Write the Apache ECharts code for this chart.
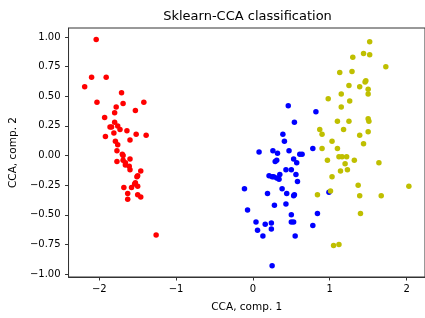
<!DOCTYPE html>
<html>
<head>
<meta charset="utf-8">
<script src="https://cdn.jsdelivr.net/npm/echarts@6/dist/echarts.min.js"></script>
<style>
  html, body { margin: 0; padding: 0; background: #fff; }
  #chart { width: 425px; height: 318px; }
</style>
</head>
<body>
<div id="chart"></div>
<script>
var xTicks = [-2, -1, 0, 1, 2];
var yTicks = [-1, -0.75, -0.5, -0.25, 0, 0.25, 0.5, 0.75, 1];

// [comp1, comp2] per point
var classRed = [
    [-2.04, 0.98], [-2.10, 0.66], [-1.91, 0.66], [-2.19, 0.58], [-1.71, 0.53],
    [-2.03, 0.45], [-1.69, 0.44], [-1.78, 0.41], [-1.42, 0.45], [-1.53, 0.38],
    [-1.80, 0.36], [-1.93, 0.32], [-1.80, 0.28], [-1.76, 0.25], [-1.86, 0.24],
    [-1.84, 0.24], [-1.73, 0.22], [-1.64, 0.21], [-1.81, 0.19], [-1.52, 0.18],
    [-1.39, 0.17], [-1.92, 0.16], [-1.60, 0.13], [-1.79, 0.12], [-1.76, 0.09],
    [-1.77, 0.04], [-1.70, 0.01], [-1.69, 0.00], [-1.60, -0.03], [-1.77, -0.05],
    [-1.69, -0.04], [-1.66, -0.06], [-1.66, -0.08], [-1.61, -0.09], [-1.60, -0.12],
    [-1.46, -0.13], [-1.50, -0.17], [-1.51, -0.18], [-1.53, -0.23], [-1.54, -0.24],
    [-1.50, -0.26], [-1.58, -0.27], [-1.68, -0.27], [-1.63, -0.32], [-1.50, -0.33],
    [-1.46, -0.35], [-1.63, -0.37], [-1.26, -0.67]
];
var classBlue = [
    [0.46, 0.42], [0.82, 0.37], [0.54, 0.28], [0.39, 0.18], [0.41, 0.12],
    [0.78, 0.06], [0.08, 0.03], [0.26, 0.04], [0.32, 0.02], [0.47, 0.04],
    [0.61, 0.01], [0.64, 0.01], [0.53, -0.03], [0.31, -0.04], [0.29, -0.05],
    [0.57, -0.06], [0.50, -0.12], [0.43, -0.12], [0.35, -0.16], [0.21, -0.17],
    [0.25, -0.18], [0.27, -0.18], [0.31, -0.19], [0.34, -0.20], [0.56, -0.16],
    [0.58, -0.22], [-0.11, -0.28], [0.38, -0.28], [0.44, -0.32], [0.19, -0.32],
    [0.54, -0.33], [0.53, -0.34], [0.28, -0.42], [0.43, -0.41], [-0.07, -0.46],
    [0.50, -0.50], [0.84, -0.49], [0.04, -0.56], [0.50, -0.56], [0.53, -0.56],
    [0.16, -0.58], [0.24, -0.57], [0.24, -0.62], [0.78, -0.59], [0.06, -0.63],
    [0.13, -0.68], [0.55, -0.68], [0.25, -0.93], [0.99, -0.31]
];
var classYellow = [
    [1.52, 0.96], [1.44, 0.86], [1.52, 0.85], [1.30, 0.83], [1.73, 0.75],
    [1.13, 0.70], [1.29, 0.71], [1.47, 0.63], [1.46, 0.62], [1.25, 0.59],
    [1.39, 0.58], [1.50, 0.56], [1.50, 0.52], [1.15, 0.52], [0.98, 0.48],
    [1.26, 0.46], [1.15, 0.41], [1.10, 0.29], [1.25, 0.29], [1.50, 0.31],
    [1.51, 0.29], [1.18, 0.22], [0.87, 0.22], [0.90, 0.18], [1.50, 0.20],
    [1.39, 0.17], [1.03, 0.12], [1.44, 0.10], [0.90, 0.06], [1.10, 0.06],
    [1.12, -0.01], [1.16, -0.01], [1.22, -0.01], [0.97, -0.04], [1.32, -0.04],
    [1.20, -0.07], [1.64, -0.06], [1.14, -0.13], [1.23, -0.12], [1.03, -0.18],
    [1.37, -0.25], [2.03, -0.26], [0.84, -0.33], [1.01, -0.30], [1.39, -0.34],
    [1.67, -0.34], [1.40, -0.49], [1.05, -0.76], [1.12, -0.75]
];

var FONT = 'DejaVu Sans';
var AXIS = '#333';

function minus(s) {
    return String(s).replace('-', '\u2212');
}

var chart = echarts.init(document.getElementById('chart'));

function dots(data, color) {
    return {
        type: 'scatter',
        data: data,
        symbol: 'circle',
        symbolSize: 5.5,
        itemStyle: { color: color, opacity: 1 },
        silent: true
    };
}

chart.setOption({
    animation: false,
    backgroundColor: '#fff',
    title: {
        text: 'Sklearn-CCA classification',
        left: 242.5,
        top: 5,
        textAlign: 'center',
        textStyle: { fontFamily: FONT, fontSize: 13, fontWeight: 'normal', color: '#000' }
    },
    grid: {
        left: 66, right: -4, top: 28, bottom: 41,
        show: true, borderColor: AXIS, borderWidth: 1, backgroundColor: 'transparent'
    },
    xAxis: {
        type: 'value',
        min: -2.4,
        max: 2.24,
        name: 'CCA, comp. 1',
        nameLocation: 'middle',
        nameGap: 25,
        nameTextStyle: { fontFamily: FONT, fontSize: 10.5, color: '#000' },
        axisLine: { show: true, onZero: false, lineStyle: { color: AXIS, width: 1 } },
        axisTick: { show: true, inside: false, length: 3.5, customValues: xTicks, lineStyle: { color: AXIS } },
        axisLabel: {
            customValues: xTicks, margin: 7,
            fontFamily: FONT, fontSize: 10, color: '#000',
            formatter: function (v) { return minus(v); }
        },
        splitLine: { show: false }
    },
    yAxis: {
        type: 'value',
        min: -1.025,
        max: 1.076,
        name: 'CCA, comp. 2',
        nameLocation: 'middle',
        nameGap: 45,
        nameTextStyle: { fontFamily: FONT, fontSize: 10.5, color: '#000' },
        axisLine: { show: true, onZero: false, lineStyle: { color: AXIS, width: 1 } },
        axisTick: { show: true, inside: false, length: 3.5, customValues: yTicks, lineStyle: { color: AXIS } },
        axisLabel: {
            customValues: yTicks, margin: 8,
            fontFamily: FONT, fontSize: 10, color: '#000',
            formatter: function (v) { return minus(v.toFixed(2)); }
        },
        splitLine: { show: false }
    },
    series: [
        dots(classRed, '#ff0000'),
        dots(classBlue, '#0000ff'),
        dots(classYellow, '#bfbf00')
    ]
});
</script>
</body>
</html>
